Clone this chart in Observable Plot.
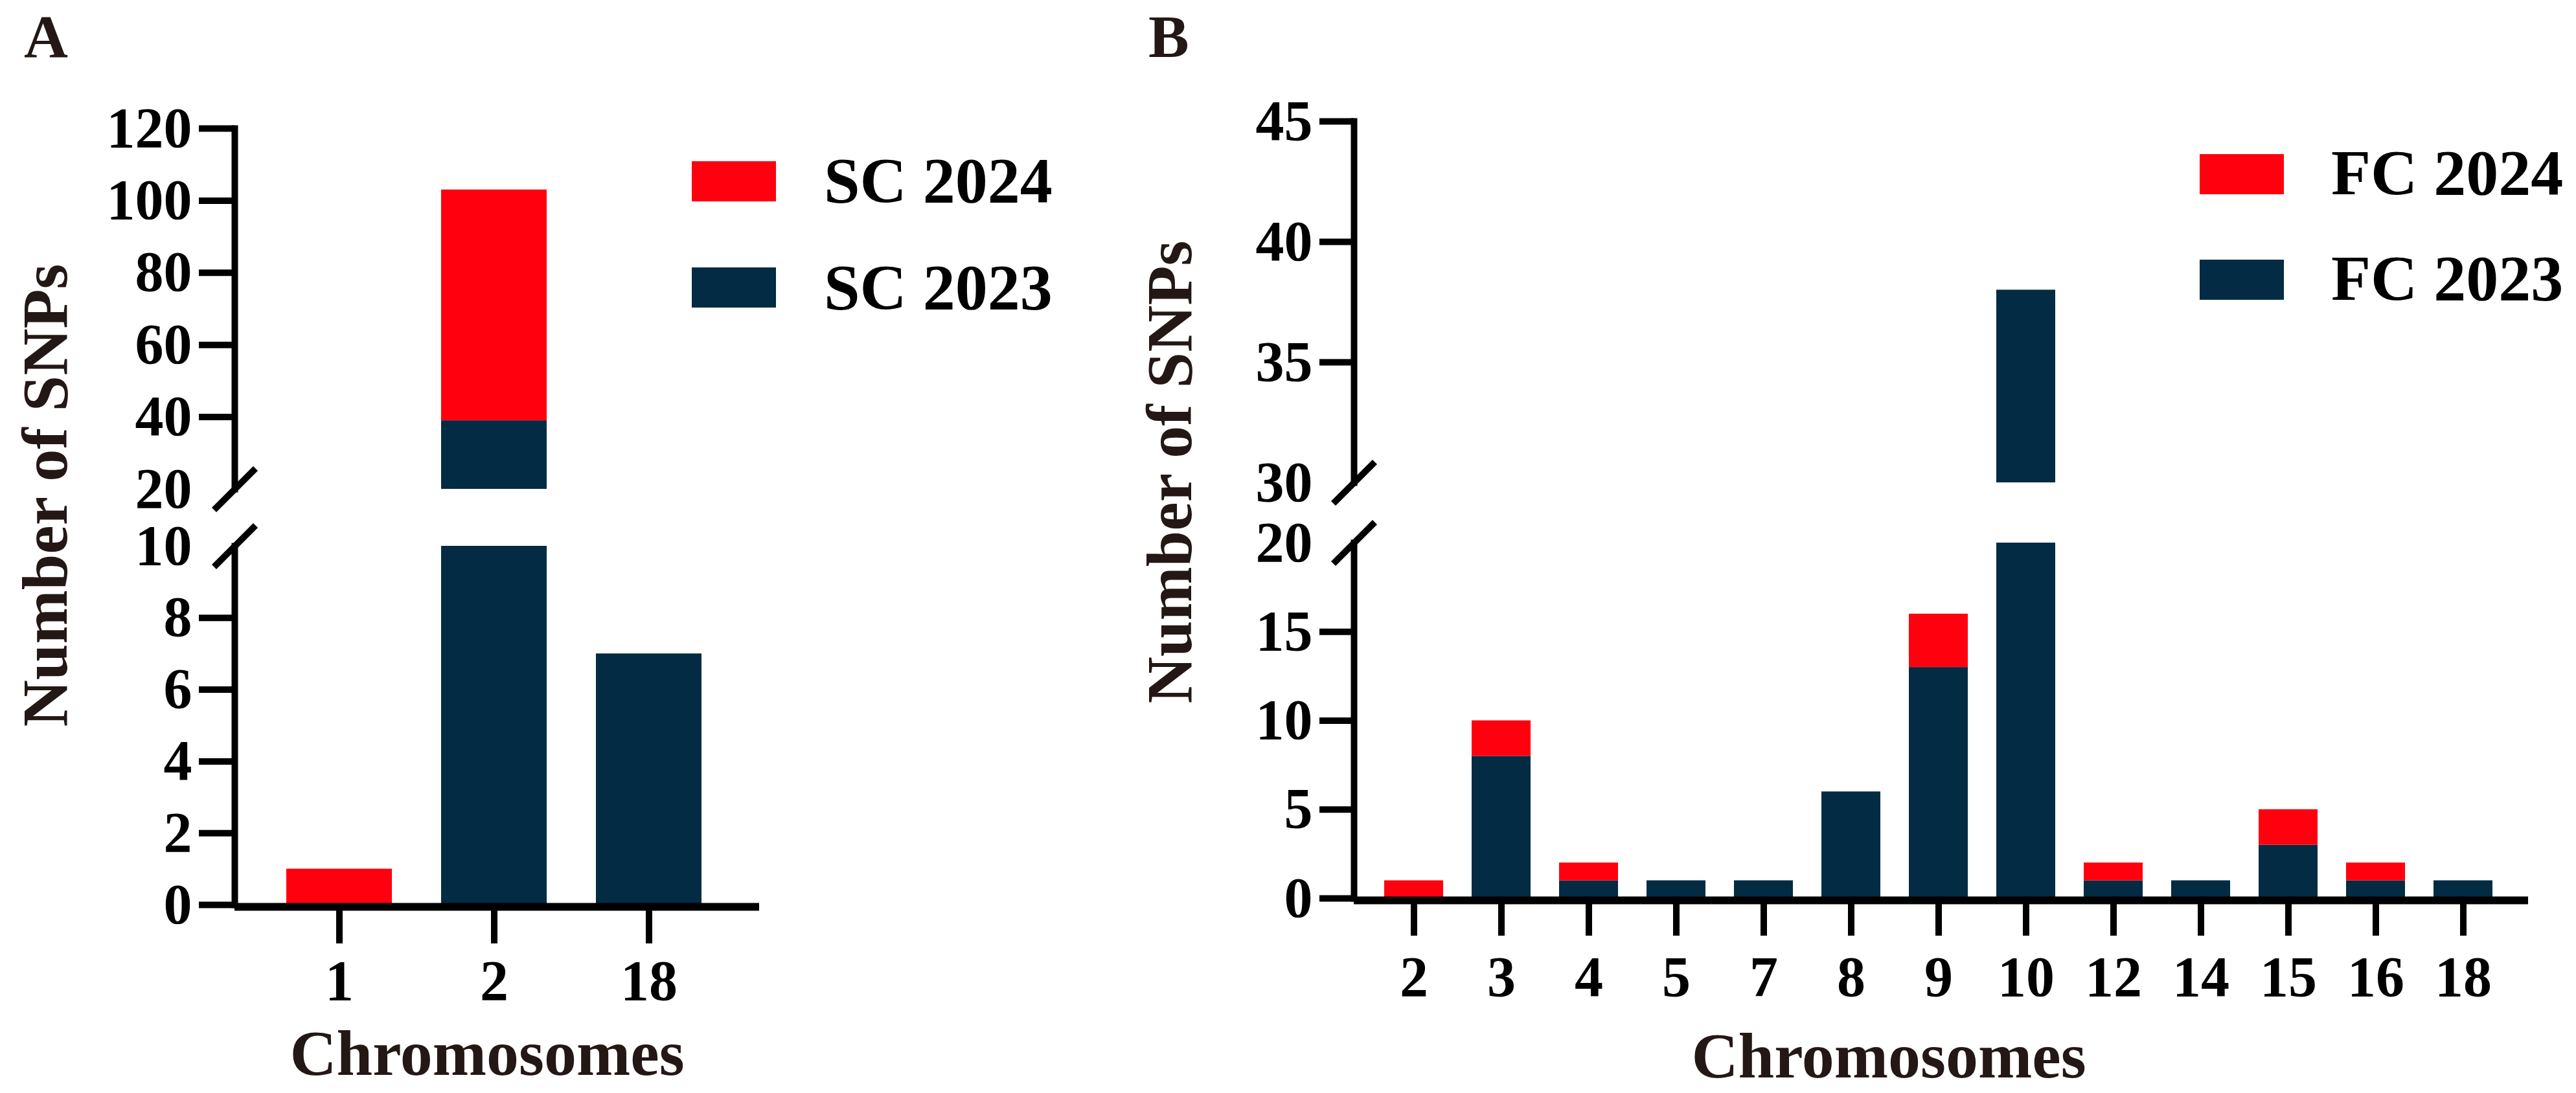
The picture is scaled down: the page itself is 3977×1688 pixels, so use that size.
<!DOCTYPE html>
<html>
<head>
<meta charset="utf-8">
<script src="https://cdn.jsdelivr.net/npm/d3@7"></script>
<script src="https://cdn.jsdelivr.net/npm/@observablehq/plot@0.6"></script>
<style>
  body { margin: 0; background: #fff; }
  #page { position: relative; width: 3977px; height: 1688px; background: #fff; overflow: hidden; }
  .seg { position: absolute; }
</style>
</head>
<body>
<div id="page"></div>
<script>
// panel A (SC)
const chrA = ["1", "2", "18"]
const sc2023 = [0, 39, 7]
const sc2024 = [1, 64, 0]
const namesA = ["SC 2023", "SC 2024"]

// panel B (FC)
const chrB = ["2", "3", "4", "5", "7", "8", "9", "10", "12", "14", "15", "16", "18"]
const fc2023 = [0, 8, 1, 1, 1, 6, 13, 38, 1, 1, 3, 1, 1]
const fc2024 = [1, 2, 1, 0, 0, 0, 3, 0, 1, 0, 2, 1, 0]
const namesB = ["FC 2023", "FC 2024"]

// broken y axes: upper and lower pieces
const ticksAUpper = [40, 60, 80, 100, 120]
const ticksALower = [0, 2, 4, 6, 8]
const ticksBUpper = [35, 40, 45]
const ticksBLower = [0, 5, 10, 15]

const RED = "#ff000f"
const NAVY = "#032b43"
const INK = "#231815"
const FONT = "'Liberation Serif', 'Times New Roman', serif"

// long table, 2023 first so it sits at the bottom of the stack
function longData(chr, a, b, names) {
  return chr.flatMap((c, i) => [
    {chr: c, n: a[i], year: names[0]},
    {chr: c, n: b[i], year: names[1]}
  ])
}

// little slash used for the axis break
const slash = {
  draw(ctx, size) {
    const r = Math.sqrt(size / Math.PI)
    ctx.moveTo(-r, r)
    ctx.lineTo(r, -r)
  }
}

function segment(cfg) {
  let marks = [
    Plot.barY(cfg.data, {x: "chr", y: "n", fill: "year", clip: true}),
    Plot.frame({anchor: "left", stroke: "black", strokeWidth: 10}),
    Plot.axisY({ticks: cfg.ticks, tickSize: cfg.ySize, tickPadding: 11, strokeWidth: 10,
      fontSize: 88, fontWeight: "bold", label: null}),
    // label at the break, no tick line
    Plot.axisY({ticks: [cfg.edge], tickSize: 0, tickPadding: cfg.ySize + 11,
      fontSize: 88, fontWeight: "bold", label: null}),
    Plot.dot([cfg.edge], {y: d => d, frameAnchor: "left", symbol: slash, r: 32,
      stroke: "black", strokeWidth: 10, fill: "none"})
  ]
  if (cfg.showX) {
    marks.push(
      Plot.ruleY([0], {stroke: "black", strokeWidth: 12, dy: 3}),
      Plot.axisX({tickSize: cfg.xSize, tickPadding: cfg.xPad, strokeWidth: 10,
        fontSize: 88, fontWeight: "bold", label: null})
    )
  }
  return Plot.plot({
    width: cfg.width,
    height: cfg.height,
    marginLeft: cfg.ml,
    marginRight: cfg.mr,
    marginTop: cfg.mt,
    marginBottom: cfg.mb,
    x: {domain: cfg.chr, paddingInner: cfg.pi, paddingOuter: cfg.po, align: cfg.align,
      axis: cfg.showX ? undefined : null},
    y: {domain: cfg.domain},
    color: {domain: cfg.names, range: [NAVY, RED]},
    style: {fontFamily: FONT, fontWeight: "bold", fontSize: "88px", color: "black",
      background: "transparent", overflow: "visible"},
    marks
  })
}

const page = d3.select("#page")
function place(chart, left, top) {
  page.append("div").attr("class", "seg")
    .style("left", left + "px").style("top", top + "px")
    .append(() => chart)
}

const dataA = longData(chrA, sc2023, sc2024, namesA)
const dataB = longData(chrB, fc2023, fc2024, namesB)

const baseA = {data: dataA, chr: chrA, names: namesA, width: 1300, ml: 362, mr: 128,
  pi: 0.32, po: 0.351, align: 0.473, ySize: 55}
const baseB = {data: dataB, chr: chrB, names: namesB, width: 2277, ml: 390, mr: 74,
  pi: 0.327, po: 0.37, align: 0.46, ySize: 53}

place(segment({...baseA, domain: [20, 120], ticks: ticksAUpper, edge: 20,
  height: 800, mt: 198, mb: 45}), 0, 0)
place(segment({...baseA, domain: [0, 10], ticks: ticksALower, edge: 10,
  height: 888, mt: 43, mb: 291, showX: true, xSize: 60, xPad: 24}), 0, 800)
place(segment({...baseB, domain: [30, 45], ticks: ticksBUpper, edge: 30,
  height: 800, mt: 187, mb: 55}), 1700, 0)
place(segment({...baseB, domain: [0, 20], ticks: ticksBLower, edge: 20,
  height: 888, mt: 38, mb: 301, showX: true, xSize: 58, xPad: 30}), 1700, 800)

// titles, panel letters and legends
const over = page.append("svg")
  .attr("width", 3977).attr("height", 1688)
  .style("position", "absolute").style("left", 0).style("top", 0)
  .style("font-family", FONT).style("font-weight", "bold")

over.append("text").attr("x", 37).attr("y", 88).attr("font-size", 94).attr("fill", INK).text("A")
over.append("text").attr("x", 1773).attr("y", 88).attr("font-size", 94).attr("fill", INK).text("B")

over.append("text").attr("x", 752).attr("y", 1660).attr("text-anchor", "middle")
  .attr("font-size", 100).attr("fill", INK).text("Chromosomes")
over.append("text").attr("x", 2916).attr("y", 1664).attr("text-anchor", "middle")
  .attr("font-size", 100).attr("fill", INK).text("Chromosomes")

over.append("text").attr("transform", "translate(103,765) rotate(-90)").attr("text-anchor", "middle")
  .attr("font-size", 100).attr("fill", INK).text("Number of SNPs")
over.append("text").attr("transform", "translate(1839,729) rotate(-90)").attr("text-anchor", "middle")
  .attr("font-size", 100).attr("fill", INK).text("Number of SNPs")

const legendItems = [
  {x: 1068, y: 249, tx: 1272, base: 312, label: namesA[1], color: RED},
  {x: 1068, y: 413, tx: 1272, base: 477, label: namesA[0], color: NAVY},
  {x: 3396, y: 238, tx: 3599, base: 300, label: namesB[1], color: RED},
  {x: 3396, y: 401, tx: 3599, base: 463, label: namesB[0], color: NAVY}
]
legendItems.forEach(d => {
  over.append("rect").attr("x", d.x).attr("y", d.y).attr("width", 130).attr("height", 62).attr("fill", d.color)
  over.append("text").attr("x", d.tx).attr("y", d.base).attr("font-size", 100).attr("fill", "black").text(d.label)
})
</script>
</body>
</html>
